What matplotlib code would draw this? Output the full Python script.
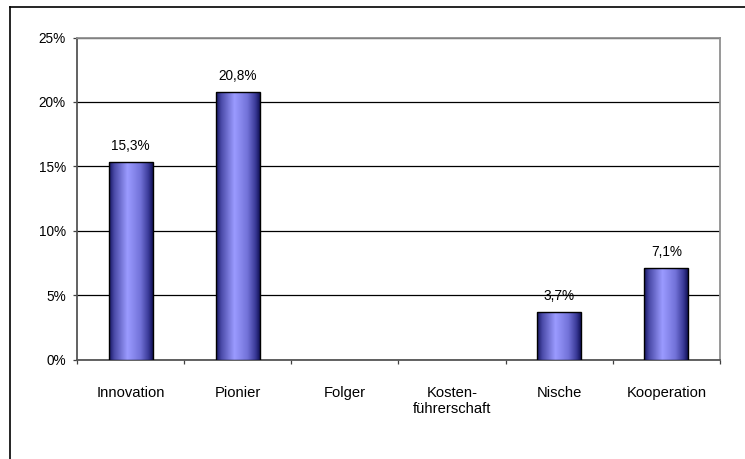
import numpy as np
import matplotlib.pyplot as plt
from matplotlib.colors import LinearSegmentedColormap
from matplotlib.lines import Line2D

plt.rcParams['font.family'] = ['Liberation Sans', 'DejaVu Sans']

categories = ["Innovation", "Pionier", "Folger", "Kosten-\nführerschaft", "Nische", "Kooperation"]
shares = [15.3, 20.8, 0.0, 0.0, 3.7, 7.1]
yticks = [0, 5, 10, 15, 20, 25]

# horizontal shading for the bars: dark edges, light band left of centre
shade = LinearSegmentedColormap.from_list(
    "shade", [(0.0, "#14145e"), (0.12, "#4a4aa8"), (0.42, "#9b9bff"),
              (0.72, "#7272d8"), (0.9, "#3a3a98"), (1.0, "#121258")])
grad = np.linspace(0, 1, 256).reshape(1, -1)

fig = plt.figure(figsize=(7.45, 4.59), dpi=100)
ax = fig.add_axes([77 / 745, 1 - 359.5 / 459, 643 / 745, 322 / 459])

x = np.arange(len(categories))
width = 0.41
for xi, v in zip(x, shares):
    if v <= 0:
        continue
    ax.imshow(grad, cmap=shade, aspect="auto", interpolation="bilinear",
              extent=[xi - width / 2, xi + width / 2, 0, v], zorder=3)
    ax.bar(xi, v, width, fill=False, edgecolor="black", linewidth=1.0, zorder=4)
    ax.annotate(f"{v:.1f}%".replace(".", ","), (xi, v), xytext=(0, 11.5),
                textcoords="offset points", ha="center", va="center", fontsize=9.8)

ax.set_xlim(-0.5, len(categories) - 0.5)
ax.set_ylim(0, 25)
ax.set_yticks(yticks)
ax.set_yticklabels([f"{t}%" for t in yticks], fontsize=9.8)
ax.yaxis.grid(True, color="black", linewidth=0.9, zorder=1)
ax.set_axisbelow(True)

ax.set_xticks(x)
ax.set_xticklabels(categories, fontsize=10.6, va="top", linespacing=1.15)
ax.tick_params(axis="x", which="major", length=0, pad=19)
ax.set_xticks(np.arange(-0.5, len(categories)), minor=True)
ax.tick_params(axis="x", which="minor", length=3, width=0.9, color="#404040")
ax.tick_params(axis="y", length=3, width=0.9, color="#404040", pad=5)

for side in ("left", "bottom"):
    ax.spines[side].set_color("#555555")
    ax.spines[side].set_linewidth(1.3)
for side in ("top", "right"):
    ax.spines[side].set_color("#909090")
    ax.spines[side].set_linewidth(1.3)

# outer frame (left and top edges)
fig.add_artist(Line2D([10 / 745, 10 / 745], [0, 1 - 7 / 459], color="black", linewidth=1.2,
                      transform=fig.transFigure))
fig.add_artist(Line2D([10 / 745, 1], [1 - 7 / 459, 1 - 7 / 459], color="black", linewidth=1.2,
                      transform=fig.transFigure))

fig.savefig("out.png", dpi=100)
